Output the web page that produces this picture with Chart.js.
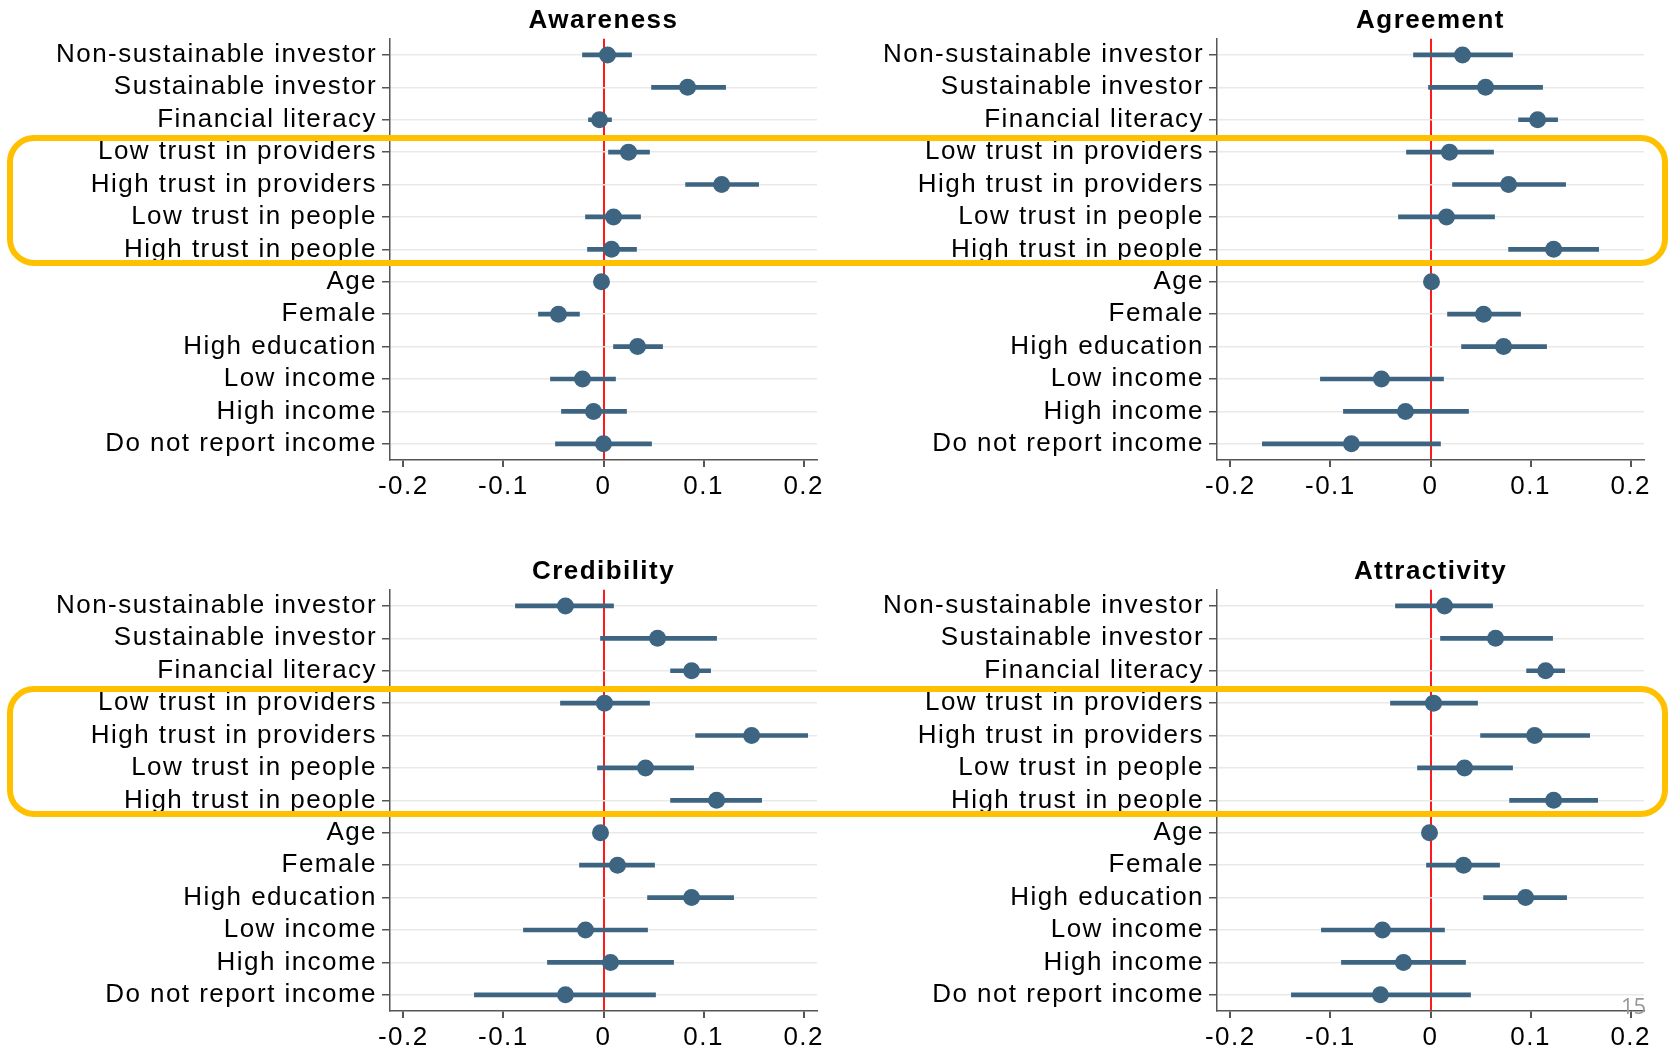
<!DOCTYPE html>
<html>
<head>
<meta charset="utf-8">
<script src="https://cdn.jsdelivr.net/npm/chart.js@4/dist/chart.umd.min.js"></script>
<style>
  html, body { margin: 0; padding: 0; background: #ffffff; overflow: hidden; }
  body { width: 1669px; height: 1046px; position: relative; }
  canvas.panel { position: absolute; }
  .highlight {
    position: absolute; box-sizing: border-box;
    border: 6px solid #FFC000; border-radius: 27px;
    pointer-events: none;
  }
  .page-no {
    position: absolute; left: 1621px; top: 990px;
    font: 22px "Open Sans", "Liberation Sans", sans-serif; color: #999999;
  }
</style>
</head>
<body>
<canvas id="c0" class="panel" width="845" height="520" style="left:0px;top:2px"></canvas>
<canvas id="c1" class="panel" width="845" height="520" style="left:827px;top:2px"></canvas>
<canvas id="c2" class="panel" width="845" height="520" style="left:0px;top:553px"></canvas>
<canvas id="c3" class="panel" width="845" height="520" style="left:827px;top:553px"></canvas>
<div class="highlight" style="left:7px;top:135px;width:1661px;height:131px"></div>
<div class="highlight" style="left:7px;top:686px;width:1661px;height:131px"></div>
<div class="page-no">15</div>
<script>
// Regressors, listed top to bottom
const categories = [
  'Non-sustainable investor', 'Sustainable investor', 'Financial literacy',
  'Low trust in providers', 'High trust in providers',
  'Low trust in people', 'High trust in people',
  'Age', 'Female', 'High education', 'Low income', 'High income',
  'Do not report income'
];

const panelTitles = ['Awareness', 'Agreement', 'Credibility', 'Attractivity'];

const xTickValues = [-0.2, -0.1, 0, 0.1, 0.2];
const xTickLabels = ['-0.2', '-0.1', '0', '0.1', '0.2'];

// Coefficient estimates with lower / upper confidence bounds
const awarenessCoef = [0.004, 0.084, -0.004, 0.025, 0.118, 0.010, 0.008, -0.002, -0.045, 0.034, -0.021, -0.010, 0.000];
const awarenessLow  = [-0.021, 0.048, -0.015, 0.005, 0.082, -0.018, -0.016, -0.003, -0.065, 0.010, -0.053, -0.042, -0.048];
const awarenessHigh = [0.028, 0.122, 0.008, 0.046, 0.155, 0.037, 0.033, -0.001, -0.024, 0.059, 0.012, 0.023, 0.048];

const agreementCoef = [0.032, 0.055, 0.107, 0.019, 0.078, 0.016, 0.123, 0.001, 0.053, 0.073, -0.049, -0.025, -0.079];
const agreementLow  = [-0.017, -0.002, 0.088, -0.024, 0.022, -0.032, 0.078, 0.000, 0.017, 0.031, -0.110, -0.087, -0.168];
const agreementHigh = [0.082, 0.112, 0.127, 0.063, 0.135, 0.064, 0.168, 0.002, 0.090, 0.116, 0.013, 0.038, 0.010];

const credibilityCoef = [-0.038, 0.054, 0.088, 0.001, 0.148, 0.042, 0.113, -0.003, 0.014, 0.088, -0.018, 0.007, -0.038];
const credibilityLow  = [-0.088, -0.003, 0.067, -0.043, 0.092, -0.006, 0.067, -0.004, -0.024, 0.044, -0.080, -0.056, -0.129];
const credibilityHigh = [0.010, 0.113, 0.107, 0.046, 0.204, 0.090, 0.158, -0.002, 0.051, 0.130, 0.044, 0.070, 0.052];

const attractivityCoef = [0.014, 0.065, 0.115, 0.003, 0.104, 0.034, 0.123, -0.001, 0.033, 0.095, -0.048, -0.027, -0.050];
const attractivityLow  = [-0.035, 0.010, 0.096, -0.040, 0.050, -0.013, 0.079, -0.002, -0.004, 0.053, -0.109, -0.089, -0.139];
const attractivityHigh = [0.062, 0.122, 0.134, 0.047, 0.159, 0.082, 0.167, 0.000, 0.069, 0.136, 0.014, 0.035, 0.040];

const panels = [
  { title: panelTitles[0], coef: awarenessCoef, low: awarenessLow, high: awarenessHigh },
  { title: panelTitles[1], coef: agreementCoef, low: agreementLow, high: agreementHigh },
  { title: panelTitles[2], coef: credibilityCoef, low: credibilityLow, high: credibilityHigh },
  { title: panelTitles[3], coef: attractivityCoef, low: attractivityLow, high: attractivityHigh }
];

const MARK = '#3d6582';
const FONT = 'Liberation Sans, Arial, sans-serif';

// Wide tracking for all text on the canvases
const trackingPlugin = {
  id: 'tracking',
  beforeLayout(chart) { chart.ctx.letterSpacing = '1.45px'; },
  beforeDraw(chart) { chart.ctx.letterSpacing = '1.45px'; }
};

panels.forEach((p, i) => {
  const ctx = document.getElementById('c' + i).getContext('2d');
  new Chart(ctx, {
    type: 'bar',
    data: {
      labels: categories,
      datasets: [
        {
          type: 'line',
          indexAxis: 'y',
          data: p.coef,
          showLine: false,
          pointRadius: 8.5,
          pointHoverRadius: 8.5,
          pointBackgroundColor: MARK,
          pointBorderWidth: 0,
          order: 0
        },
        {
          type: 'bar',
          indexAxis: 'y',
          data: p.low.map((lo, k) => [lo, p.high[k]]),
          backgroundColor: MARK,
          borderWidth: 0,
          borderSkipped: false,
          barThickness: 4,
          order: 1
        }
      ]
    },
    options: {
      indexAxis: 'y',
      responsive: false,
      maintainAspectRatio: false,
      animation: false,
      events: [],
      layout: { padding: { left: 0, right: 28, top: 0, bottom: 0 } },
      plugins: {
        legend: { display: false },
        tooltip: { enabled: false },
        title: {
          display: true,
          text: p.title,
          fullSize: false,
          color: '#000',
          font: { family: FONT, size: 26, weight: 'bold', lineHeight: 1.2 },
          padding: { top: 3.5, bottom: 2 }
        }
      },
      scales: {
        x: {
          type: 'linear',
          min: -0.2133,
          max: 0.2133,
          afterFit(scale) { scale.height = 62; },
          afterBuildTicks(scale) { scale.ticks = xTickValues.map(v => ({ value: v })); },
          ticks: {
            color: '#000',
            font: { family: FONT, size: 26 },
            padding: 4,
            maxRotation: 0,
            callback: (v, idx) => xTickLabels[idx]
          },
          grid: {
            drawOnChartArea: true,
            color: c => (c.tick && c.tick.value === 0) ? '#ff1a1a' : 'rgba(0,0,0,0)',
            lineWidth: 2,
            tickColor: '#555',
            tickLength: 7
          },
          border: { display: true, color: '#555', width: 1.5 }
        },
        y: {
          type: 'category',
          offset: true,
          afterFit(scale) { scale.width = 390; },
          ticks: {
            color: '#000',
            font: { family: FONT, size: 26 },
            padding: 5,
            autoSkip: false
          },
          grid: {
            offset: false,
            color: '#e9e9e9',
            lineWidth: 1.5,
            tickColor: '#555',
            tickLength: 8
          },
          border: { display: true, color: '#555', width: 1.5 }
        }
      }
    },
    plugins: [trackingPlugin]
  });
});
</script>
</body>
</html>
